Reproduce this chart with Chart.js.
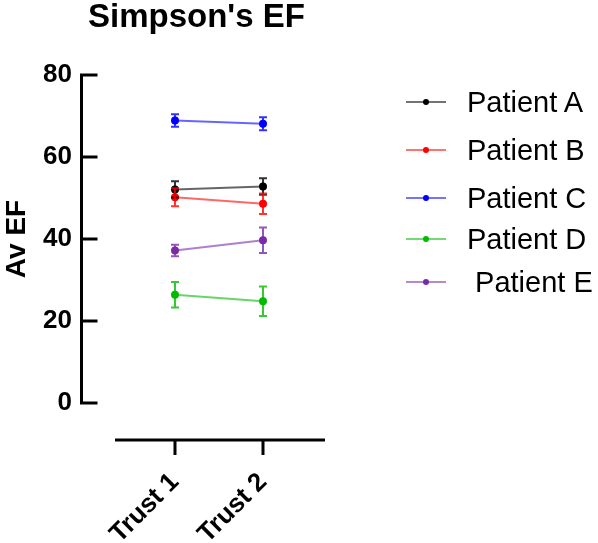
<!DOCTYPE html>
<html>
<head>
<meta charset="utf-8">
<script src="https://cdn.jsdelivr.net/npm/chart.js@4.4.1/dist/chart.umd.min.js"></script>
<style>
  html, body { margin: 0; padding: 0; background: #fff; }
  #wrap { position: relative; width: 598px; height: 543px; overflow: hidden; font-family: "Liberation Sans", Arial, sans-serif; }
  #chart { position: absolute; left: 0; top: 0; }
  #title { position: absolute; left: 88px; top: -1px; font-size: 33px; line-height: 33px; font-weight: bold; color: #000; white-space: pre; }
  .lg { position: absolute; left: 406px; height: 30px; display: flex; align-items: center; white-space: pre; font-size: 29px; line-height: 30px; color: #000; }
  .sym { position: relative; width: 40px; height: 30px; margin-right: 21px; }
  .sym .ln { position: absolute; left: 0; right: 0; top: 14px; height: 2px; opacity: 0.55; }
  .sym .dt { position: absolute; left: 17px; top: 12px; width: 6px; height: 6px; border-radius: 50%; }
</style>
</head>
<body>
<div id="wrap">
  <canvas id="chart" width="598" height="543"></canvas>
  <div id="title">Simpson's EF</div>
</div>
<script>
// ---- data ----
const chartTitle = "Simpson's EF";
const yAxisTitle = "Av EF";
const categories = ["Trust 1", "Trust 2"];
const seriesNames = ["Patient A", "Patient B", "Patient C", "Patient D", " Patient E"];
const patientA = [52.1, 52.8];
const patientB = [50.2, 48.6];
const patientC = [68.9, 68.1];
const patientD = [26.4, 24.8];
const patientE = [37.2, 39.7];
const errA = [2.0, 2.0];
const errB = [2.2, 2.5];
const errC = [1.5, 1.6];
const errD = [3.1, 3.6];
const errE = [1.4, 3.1];
const yTicks = [0, 20, 40, 60, 80];

// ---- styles ----
const colors = ["#000000", "#ff0000", "#0000ff", "#00bb00", "#7a2aa8"];
const legendCenters = [102, 150, 198, 239, 282];

const values = [patientA, patientB, patientC, patientD, patientE];
const errors = [errA, errB, errC, errD, errE];

document.getElementById('title').textContent = chartTitle;

// legend (HTML)
const wrap = document.getElementById('wrap');
seriesNames.forEach((name, i) => {
  const row = document.createElement('div');
  row.className = 'lg';
  row.style.top = (legendCenters[i] - 15) + 'px';
  const sym = document.createElement('div');
  sym.className = 'sym';
  const ln = document.createElement('div'); ln.className = 'ln'; ln.style.background = colors[i];
  const dt = document.createElement('div'); dt.className = 'dt'; dt.style.background = colors[i];
  sym.appendChild(ln); sym.appendChild(dt);
  const tx = document.createElement('span'); tx.textContent = name;
  row.appendChild(sym); row.appendChild(tx);
  wrap.appendChild(row);
});

const datasets = values.map((vals, i) => ({
  label: seriesNames[i],
  data: vals.map((v, j) => ({ x: j + 1, y: v })),
  errs: errors[i],
  borderColor: colors[i] + '99',
  backgroundColor: colors[i],
  pointBackgroundColor: colors[i],
  pointBorderColor: colors[i],
  pointRadius: 3,
  borderWidth: 2,
  tension: 0
}));

const errorBars = {
  id: 'errorBars',
  afterDatasetsDraw(chart) {
    const ctx = chart.ctx;
    const ys = chart.scales.y;
    chart.data.datasets.forEach((ds, i) => {
      const meta = chart.getDatasetMeta(i);
      meta.data.forEach((pt, j) => {
        const v = ds.data[j].y, e = ds.errs[j];
        const top = ys.getPixelForValue(v + e);
        const bot = ys.getPixelForValue(v - e);
        ctx.save();
        ctx.strokeStyle = ds.backgroundColor;
        ctx.globalAlpha = 0.8;
        ctx.lineWidth = 2;
        ctx.beginPath();
        ctx.moveTo(pt.x, top); ctx.lineTo(pt.x, bot);
        ctx.moveTo(pt.x - 4, top); ctx.lineTo(pt.x + 4, top);
        ctx.moveTo(pt.x - 4, bot); ctx.lineTo(pt.x + 4, bot);
        ctx.stroke();
        ctx.restore();
      });
    });
  }
};

const axesLines = {
  id: 'axesLines',
  afterDraw(chart) {
    const ctx = chart.ctx;
    const ys = chart.scales.y, xs = chart.scales.x;
    const ca = chart.chartArea;
    ctx.save();
    ctx.strokeStyle = '#000';
    ctx.lineWidth = 3;
    ctx.lineCap = 'butt';
    // y axis
    const ax = ca.left + 1.5;
    ctx.beginPath();
    ctx.moveTo(ax, ys.getPixelForValue(yTicks[yTicks.length - 1]) - 1.5);
    ctx.lineTo(ax, ys.getPixelForValue(yTicks[0]) + 1.5);
    yTicks.forEach(t => {
      const py = ys.getPixelForValue(t);
      ctx.moveTo(ax, py); ctx.lineTo(ax + 16, py);
    });
    ctx.stroke();
    // x axis (detached)
    const ay = ca.bottom + 37;
    ctx.beginPath();
    ctx.moveTo(ca.left + 35, ay); ctx.lineTo(ca.right, ay);
    categories.forEach((c, i) => {
      const px = xs.getPixelForValue(i + 1);
      ctx.moveTo(px, ay); ctx.lineTo(px, ay + 15);
    });
    ctx.stroke();
    ctx.restore();
  }
};

Chart.defaults.font.family = '"Liberation Sans", Arial, sans-serif';
Chart.defaults.color = '#000';

new Chart(document.getElementById('chart'), {
  type: 'line',
  data: { datasets },
  options: {
    responsive: false,
    animation: false,
    devicePixelRatio: 1,
    layout: { padding: { top: 75, right: 273, bottom: 0, left: 0 } },
    plugins: { legend: { display: false }, title: { display: false }, tooltip: { enabled: false } },
    scales: {
      x: {
        type: 'linear',
        min: -0.0795,
        max: 2.7045,
        grid: { display: false, drawTicks: false },
        border: { display: false },
        afterBuildTicks(s) { s.ticks = categories.map((c, i) => ({ value: i + 1 })); },
        afterFit(s) { s.height = 140; s.paddingLeft = 0; s.paddingRight = 0; },
        ticks: {
          autoSkip: false,
          minRotation: 45, maxRotation: 45,
          padding: 64,
          font: { size: 26, weight: 'bold' },
          callback: (v) => categories[Math.round(v) - 1] || ''
        }
      },
      y: {
        min: 0, max: 80,
        grid: { display: false, drawTicks: false },
        border: { display: false },
        afterBuildTicks(s) { s.ticks = yTicks.map(v => ({ value: v })); },
        afterFit(s) { s.width = 80; },
        ticks: { padding: 8, font: { size: 26, weight: 'bold' } },
        title: { display: true, text: yAxisTitle, font: { size: 28, weight: 'bold' }, padding: { top: 0, bottom: 0 } }
      }
    }
  },
  plugins: [errorBars, axesLines]
});
</script>
</body>
</html>
